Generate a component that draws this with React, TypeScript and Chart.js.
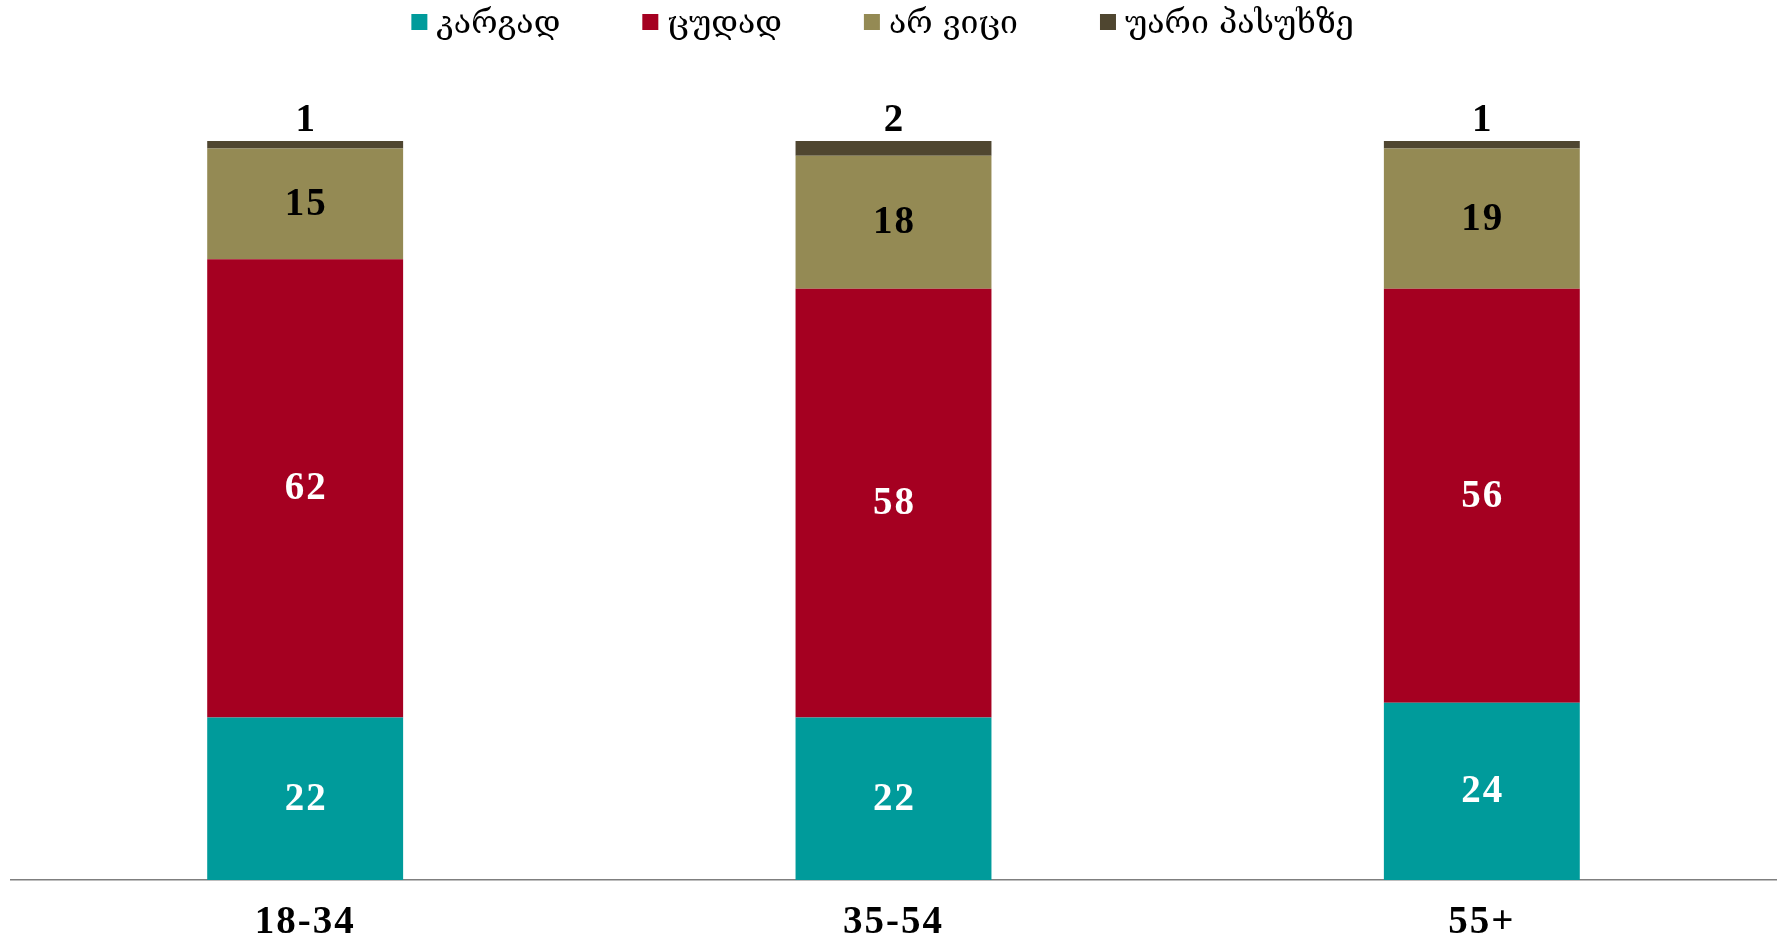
import React, { useEffect, useRef } from 'react';
import { Chart, registerables } from 'chart.js';

Chart.register(...registerables);

const categories = ['18-34', '35-54', '55+'];
const seriesNames = ['კარგად', 'ცუდად', 'არ ვიცი', 'უარი პასუხზე'];
const good = [22, 22, 24];
const bad = [62, 58, 56];
const dontKnow = [15, 18, 19];
const refused = [1, 2, 1];
const seriesValues = [good, bad, dontKnow, refused];
const colors = ['#009B9B', '#A50021', '#948A54', '#4F4630'];
const labelColors = ['#FFFFFF', '#FFFFFF', '#000000', '#000000'];

const SERIF = '"Liberation Serif", "DejaVu Serif", serif';
const GEO = '"DejaVu Serif", "DejaVu Sans", serif';

const spacingPlugin = {
  id: 'letterSpacing',
  beforeDraw(chart: any) {
    try {
      (chart.ctx as any).letterSpacing = '2px';
    } catch (e) {}
  },
  afterDraw(chart: any) {
    try {
      (chart.ctx as any).letterSpacing = '0px';
    } catch (e) {}
  },
};

const legendPlugin = {
  id: 'customLegend',
  afterDraw(chart: any) {
    const ctx = chart.ctx;
    const area = chart.chartArea;
    ctx.save();
    try {
      (ctx as any).letterSpacing = '0px';
    } catch (e) {}
    ctx.font = `32px ${GEO}`;
    ctx.textBaseline = 'middle';
    const box = 16;
    const gapBox = 9;
    const gapItem = 82;
    const items = chart.data.datasets.map((ds: any) => ({
      text: ds.label,
      color: ds.backgroundColor,
      w: ctx.measureText(ds.label).width,
    }));
    const total =
      items.reduce((s: number, it: any) => s + box + gapBox + it.w, 0) + gapItem * (items.length - 1);
    let x = (area.left + area.right) / 2 - 11 - total / 2;
    const y = 24;
    items.forEach((it: any) => {
      ctx.fillStyle = it.color;
      ctx.fillRect(x, y - box / 2 - 2, box, box);
      ctx.fillStyle = '#000000';
      ctx.textAlign = 'left';
      ctx.fillText(it.text, x + box + gapBox, y + 1);
      x += box + gapBox + it.w + gapItem;
    });
    ctx.restore();
  },
};

const dataLabelPlugin = {
  id: 'dataLabels',
  afterDatasetsDraw(chart: any) {
    const ctx = chart.ctx;
    ctx.save();
    ctx.font = `bold 39px ${SERIF}`;
    try {
      (ctx as any).letterSpacing = '2px';
    } catch (e) {}
    ctx.textAlign = 'center';
    ctx.textBaseline = 'middle';
    const n = chart.data.datasets.length;
    chart.data.datasets.forEach((ds: any, di: number) => {
      const meta = chart.getDatasetMeta(di);
      meta.data.forEach((el: any, i: number) => {
        const v = ds.data[i];
        let yy: number;
        if (di === n - 1) {
          yy = el.y - 21;
        } else {
          yy = (el.y + el.base) / 2;
        }
        ctx.fillStyle = labelColors[di];
        ctx.fillText(String(v), el.x + 1, yy + 1);
      });
    });
    ctx.restore();
  },
};

export default function App() {
  const canvasRef = useRef<HTMLCanvasElement | null>(null);

  useEffect(() => {
    if (!canvasRef.current) return;
    const chart = new Chart(canvasRef.current, {
      type: 'bar',
      data: {
        labels: categories,
        datasets: seriesNames.map((name, i) => ({
          label: name,
          data: seriesValues[i],
          backgroundColor: colors[i],
          borderWidth: 0,
          barPercentage: 0.333,
          categoryPercentage: 1,
        })),
      },
      options: {
        animation: false,
        responsive: false,
        maintainAspectRatio: false,
        layout: { padding: { top: 141, left: 11, right: 9, bottom: 0 } },
        plugins: {
          legend: { display: false },
          tooltip: { enabled: false },
          title: { display: false },
        },
        scales: {
          x: {
            stacked: true,
            grid: { display: false, drawTicks: false },
            border: { display: true, color: '#7F7F7F', width: 1.5 },
            ticks: {
              color: '#000000',
              padding: 23,
              font: { family: SERIF, size: 39, weight: 'bold', lineHeight: 1 },
            },
            afterFit: (scale: any) => {
              scale.height = 58;
            },
          },
          y: {
            stacked: true,
            display: false,
            min: 0,
            max: 100,
          },
        },
      },
      plugins: [spacingPlugin, dataLabelPlugin, legendPlugin],
    });
    return () => chart.destroy();
  }, []);

  return (
    <div style={{ position: 'fixed', left: 0, top: 0, width: 1785, height: 938, background: '#FFFFFF' }}>
      <canvas ref={canvasRef} width={1785} height={938} style={{ width: 1785, height: 938, display: 'block' }} />
    </div>
  );
}
